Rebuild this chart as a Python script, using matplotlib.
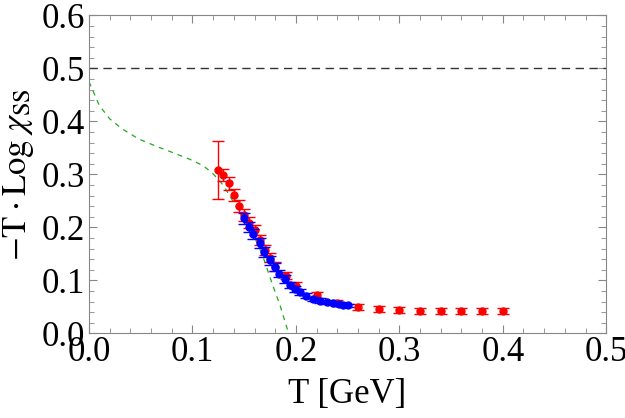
import numpy as np
import matplotlib.pyplot as plt
from matplotlib.ticker import MultipleLocator, FormatStrFormatter

plt.rcParams['font.family'] = ['Liberation Serif', 'DejaVu Serif']
plt.rcParams['mathtext.fontset'] = 'stix'

# red data set
red_T = [0.125, 0.130, 0.135, 0.140, 0.145, 0.150, 0.155, 0.160, 0.165, 0.170,
         0.175, 0.180, 0.190, 0.200, 0.220, 0.240, 0.260, 0.280, 0.300, 0.320,
         0.340, 0.360, 0.380, 0.400]
red_val = [0.309, 0.299, 0.283, 0.261, 0.241, 0.223, 0.209, 0.195, 0.176, 0.158,
           0.143, 0.126, 0.109, 0.090, 0.073, 0.057, 0.050, 0.046, 0.044, 0.043,
           0.042, 0.042, 0.042, 0.042]
red_err = [0.055, 0.012, 0.012, 0.011, 0.011, 0.011, 0.010, 0.010, 0.009, 0.009,
           0.008, 0.008, 0.007, 0.007, 0.006, 0.006, 0.006, 0.006, 0.006, 0.006,
           0.006, 0.006, 0.006, 0.006]

# blue data set
blue_T = [0.150, 0.155, 0.159, 0.165, 0.169, 0.175, 0.180, 0.184, 0.189, 0.194,
          0.199, 0.204, 0.210, 0.217, 0.223, 0.230, 0.236, 0.242, 0.246, 0.250]
blue_val = [0.217, 0.201, 0.188, 0.171, 0.154, 0.138, 0.125, 0.113, 0.103, 0.092,
            0.084, 0.078, 0.071, 0.065, 0.062, 0.059, 0.057, 0.055, 0.054, 0.053]
blue_err = [0.011, 0.010, 0.010, 0.009, 0.009, 0.008, 0.008, 0.007, 0.007, 0.006,
            0.006, 0.005, 0.005, 0.004, 0.004, 0.003, 0.003, 0.003, 0.003, 0.003]

# green model curve
green_T = [0.0, 0.01, 0.02, 0.032, 0.048, 0.064, 0.08, 0.097, 0.11, 0.119, 0.125,
           0.13, 0.136, 0.144, 0.152, 0.158, 0.164, 0.17, 0.176, 0.185, 0.193]
green_val = [0.475, 0.43, 0.405, 0.386, 0.367, 0.354, 0.342, 0.329, 0.317, 0.303,
             0.291, 0.279, 0.260, 0.234, 0.210, 0.188, 0.165, 0.135, 0.100, 0.051, 0.0]

fig = plt.figure(figsize=(6.25, 4.18), dpi=100)
ax = fig.add_axes([0.1424, 0.2022, 0.8276, 0.7608])

ax.axhline(0.5, color='#333333', lw=1.0, dashes=(6, 4))
ax.plot(green_T, green_val, color='#22aa22', lw=0.9, dashes=(4, 4))

ax.errorbar(red_T, red_val, yerr=red_err, fmt='o', color='red', ms=5,
            ecolor='red', elinewidth=1.0, capsize=4, capthick=1.0, zorder=3)
ax.errorbar(blue_T, blue_val, yerr=blue_err, fmt='o', color='blue', ms=5,
            ecolor='blue', elinewidth=1.0, capsize=4, capthick=1.0, zorder=4)

ax.set_xlim(0, 0.5)
ax.set_ylim(0, 0.6)
ax.xaxis.set_major_locator(MultipleLocator(0.1))
ax.xaxis.set_minor_locator(MultipleLocator(0.02))
ax.yaxis.set_major_locator(MultipleLocator(0.1))
ax.yaxis.set_minor_locator(MultipleLocator(0.02))
ax.xaxis.set_major_formatter(FormatStrFormatter('%.1f'))
ax.yaxis.set_major_formatter(FormatStrFormatter('%.1f'))

for s in ax.spines.values():
    s.set_color('#888888')
    s.set_linewidth(0.8)
ax.tick_params(which='both', direction='in', top=True, right=True,
               color='#888888', labelsize=25)
ax.tick_params(axis='x', pad=2)
ax.tick_params(axis='y', pad=3)
ax.tick_params(which='major', length=6, width=0.8)
ax.tick_params(which='minor', length=3.5, width=0.6)

ax.set_xlabel('T [GeV]', fontsize=25, labelpad=6)
ax.set_ylabel(r'$-\mathrm{T}\cdot\mathrm{Log}\ \chi_{\mathrm{SS}}$', fontsize=25, labelpad=4)

fig.savefig('out.png', dpi=100)
